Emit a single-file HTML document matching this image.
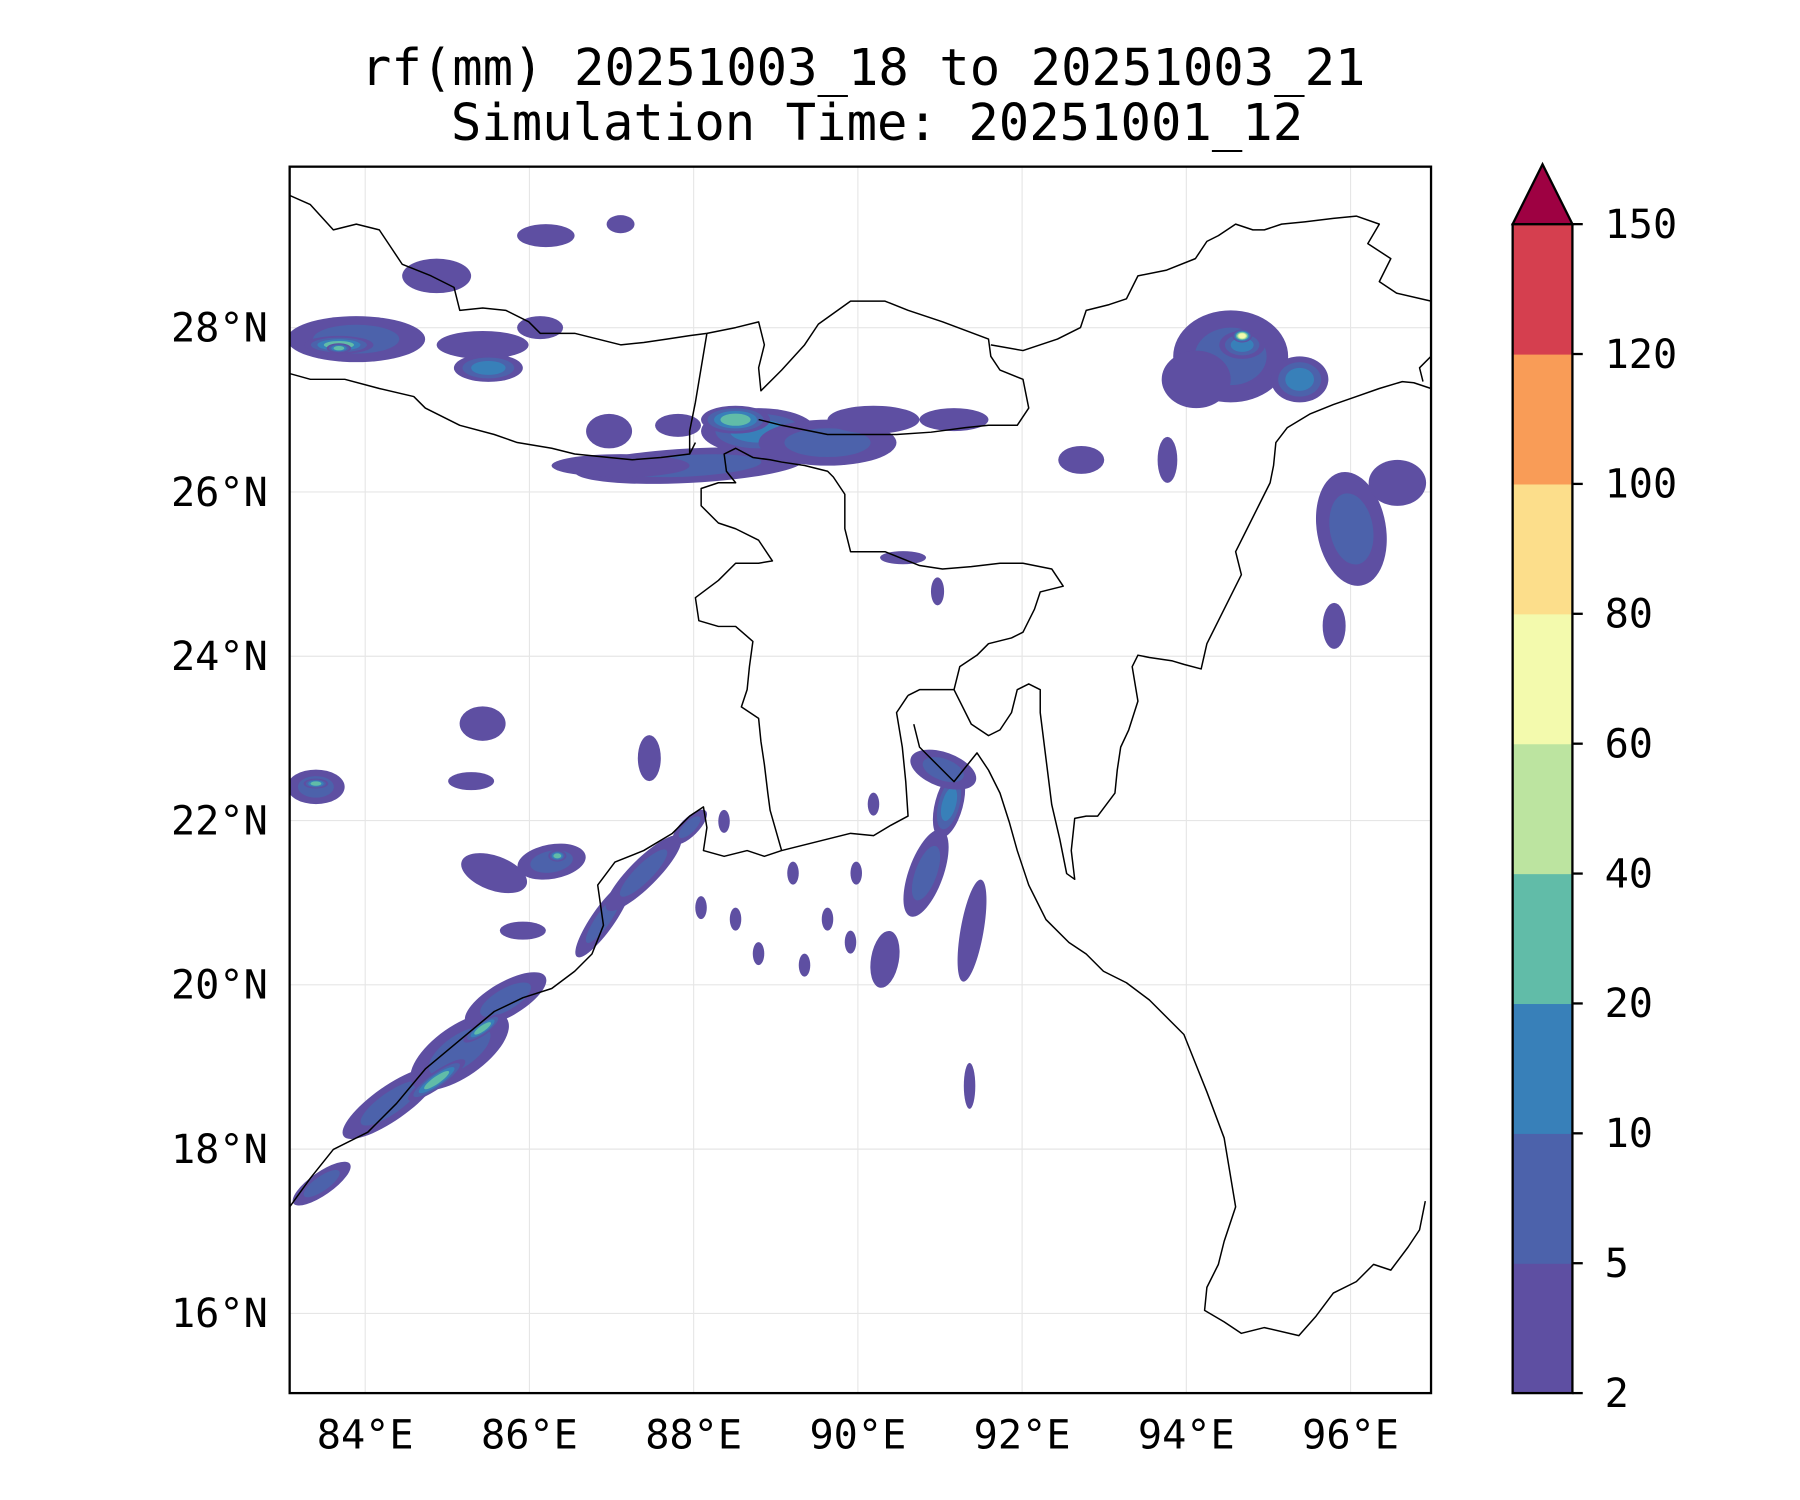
<!DOCTYPE html>
<html><head><meta charset="utf-8">
<style>html,body{margin:0;padding:0;background:#fff;}svg{display:block;}</style>
</head><body>
<svg id="chart" width="1800" height="1500" viewBox="0 0 1566 1305" xmlns="http://www.w3.org/2000/svg" font-family="'DejaVu Sans Mono','Liberation Mono',monospace">
<rect width="1566" height="1305" fill="#fff"/>
<text x="751" y="74" font-size="44" text-anchor="middle">rf(mm) 20251003_18 to 20251003_21</text>
<text x="763" y="122" font-size="44" text-anchor="middle">Simulation Time: 20251001_12</text>
<defs><clipPath id="mapclip"><rect x="252" y="145" width="993" height="1067"/></clipPath></defs>
<g id="grid"></g>
<g id="rain" clip-path="url(#mapclip)"></g>
<g id="geo" clip-path="url(#mapclip)" fill="none" stroke="#000" stroke-width="1.3" stroke-linejoin="round">
<polyline points="252,1050 270,1025 290,1000 320,985 345,960 370,930 400,905 430,880 455,868 480,860 500,845 515,830 525,805 520,770 535,750 560,740 585,725 600,710 612,702 615,720 612,740 630,745 650,740 665,745 680,740 700,735 720,730 740,725 760,727 775,718 790,710 788,680 785,650 780,620 790,605"/>
<polyline points="795,630 800,650 815,665 830,680 850,655 860,670 870,690 878,715 885,740 895,770 910,800 930,820 945,830 960,845 980,855 1000,870 1015,885 1030,900 1040,925 1050,950 1065,990 1070,1020 1075,1050 1065,1080 1060,1100 1050,1120 1048,1140 1065,1150 1080,1160 1100,1155 1130,1162 1145,1145 1160,1125 1180,1115 1195,1100 1210,1105 1225,1085 1235,1070 1240,1045"/>
<polyline points="252,325 270,330 300,330 330,338 360,345 370,355 400,370 430,378 450,385 480,390 500,395 530,398 550,400 575,398 600,395 605,385"/>
<polyline points="252,170 270,178 290,200 310,195 330,200 340,215 350,230 375,240 395,250 400,270 420,268 440,270 460,280 470,290 500,290 520,295 540,300 560,298 580,295 600,292 615,290"/>
<polyline points="615,290 610,320 605,350 600,375 600,395"/>
<polyline points="615,290 640,285 660,280 665,300 660,320 662,340 680,322 700,300 712,282 740,262 770,262 790,270 820,280 860,295 862,310 870,322 890,330 895,355 885,370 860,370 840,372 810,376 780,378 750,378 720,378 700,374 680,370 660,365"/>
<polyline points="862,300 890,305 920,295 940,285 945,270 965,265 980,260 990,240 1015,235 1040,225 1050,210 1060,205 1075,195 1090,200 1100,200 1115,195 1135,193 1160,190 1180,188 1200,195 1190,212 1210,225 1200,245 1215,255 1245,262"/>
<polyline points="1245,338 1230,333 1220,332 1200,338 1180,345 1160,352 1140,360 1120,372 1110,385 1108,405 1105,420 1095,440 1085,460 1075,480 1080,500 1070,520 1060,540 1050,560 1045,582 1030,578 1020,575 1000,572 990,570 985,580 990,610 982,635 975,650 972,670 970,690 955,710 945,710 935,712 932,740 935,765 928,760 922,730 915,700 910,660 905,620 905,600 895,595 885,600 880,620 870,635 860,640 845,630 830,600 835,580 850,570 860,560 880,555 890,550 900,530 905,515 925,510 915,495 890,490 870,490 845,493 820,495 800,492 770,480 740,480 735,460 735,430 725,415 720,410 700,405 680,402 670,400 655,398 640,390 630,395 632,410 640,420 625,420 610,425 610,440 625,455 640,460 660,470 672,488 660,490 640,490 625,505 605,520 608,540 625,545 640,545 655,558 652,580 650,600 645,615 660,625 662,645 665,665 668,690 670,705 680,740"/>
<polyline points="1245,310 1235,320 1238,332"/>
<polyline points="790,605 800,600 820,600 830,600"/>
</g>
<rect x="252" y="145" width="993" height="1067" fill="none" stroke="#000" stroke-width="2"/>
<g id="axes" font-size="35"></g>
<g id="cbar"></g>
</svg>
<script>
const NS='http://www.w3.org/2000/svg';
// Map extent
const lonMin=83.08, lonMax=96.98, latMin=15.03, latMax=29.96;
const lonTicks=[84,86,88,90,92,94,96];
const latTicks=[16,18,20,22,24,26,28];
const levels=[2,5,10,20,40,60,80,100,120,150];
const levelColors=['#5e4fa2','#4c62ab','#3880b9','#61bca8','#bce4a0','#f3faad','#fcde8b','#f99c57','#d53f4f'];
const extendColor='#9e0142';
// Rain cells: lon, lat, half-width (deg), half-height (deg), color level index, rotation
const cellLon=[83.89,83.68,85.43,85.50,86.13,84.87,86.20,87.11,87.95,87.11,88.79,89.63,88.51,90.19,86.97,87.81,91.17,92.72,93.77,94.54,94.68,94.68,95.38,94.12,96.01,96.57,95.80,90.55,90.97,83.40,85.43,85.29,87.46,85.57,86.27,86.34,83.47,84.31,85.15,85.71,84.87,85.43,86.90,87.39,87.95,85.92,90.83,91.11,91.39,90.33,91.04,91.36,88.51,88.79,89.21,89.63,89.98,89.35,88.09,89.91,90.19,88.37,83.68,83.40];
const cellLat=[27.86,27.79,27.79,27.51,28.00,28.63,29.12,29.26,26.32,26.32,26.74,26.60,26.88,26.88,26.74,26.81,26.88,26.39,26.39,27.65,27.79,27.90,27.37,27.37,25.55,26.11,24.37,25.20,24.79,22.41,23.18,22.48,22.76,21.36,21.50,21.57,17.58,18.56,19.19,19.82,18.84,19.47,20.80,21.36,21.92,20.66,21.36,22.20,20.66,20.31,22.62,18.77,20.80,20.38,21.36,20.80,21.36,20.24,20.94,20.52,22.20,21.99,27.75,22.45];
const cellRx=[0.84,0.42,0.56,0.42,0.28,0.42,0.35,0.17,1.40,0.84,0.70,0.84,0.42,0.56,0.28,0.28,0.42,0.28,0.12,0.70,0.28,0.12,0.35,0.42,0.42,0.35,0.14,0.28,0.08,0.35,0.28,0.28,0.14,0.42,0.42,0.11,0.42,0.70,0.70,0.56,0.42,0.28,0.56,0.63,0.28,0.28,0.21,0.17,0.14,0.17,0.42,0.07,0.07,0.07,0.07,0.07,0.07,0.07,0.07,0.07,0.07,0.07,0.15,0.15];
const cellRy=[0.28,0.11,0.17,0.17,0.14,0.21,0.14,0.11,0.21,0.14,0.28,0.28,0.17,0.17,0.21,0.14,0.14,0.17,0.28,0.56,0.17,0.08,0.28,0.35,0.70,0.28,0.28,0.08,0.17,0.21,0.21,0.11,0.28,0.21,0.21,0.07,0.14,0.21,0.31,0.21,0.10,0.08,0.14,0.17,0.11,0.11,0.56,0.42,0.63,0.35,0.21,0.28,0.14,0.14,0.14,0.14,0.14,0.14,0.14,0.14,0.14,0.14,0.06,0.06];
const cellLevel=[1,3,0,2,0,0,0,0,1,0,2,1,3,0,0,0,0,0,0,1,2,5,2,0,1,0,0,0,0,1,0,0,0,0,1,3,1,1,1,1,3,3,1,1,1,0,1,2,0,0,1,0,0,0,0,0,0,0,0,0,0,0,3,3];
const cellRot=[0,0,0,0,0,0,0,0,-3,0,0,0,0,0,0,0,0,0,0,0,0,0,0,0,-10,0,0,0,0,0,0,0,0,20,-10,0,-35,-35,-35,-30,-35,-35,-55,-45,-45,0,20,15,10,10,20,0,0,0,0,0,0,0,0,0,0,0];

const X0=252,X1=1245,Y0=145,Y1=1212;
function xs(lon){return X0+(lon-lonMin)/(lonMax-lonMin)*(X1-X0);}
function ys(lat){return Y0+(latMax-lat)/(latMax-latMin)*(Y1-Y0);}
function kx(d){return d/(lonMax-lonMin)*(X1-X0);}
function ky(d){return d/(latMax-latMin)*(Y1-Y0);}
function mk(tag,attrs,parent){const e=document.createElementNS(NS,tag);for(const k in attrs)e.setAttribute(k,attrs[k]);parent.appendChild(e);return e;}

const grid=document.getElementById('grid');
lonTicks.forEach(v=>{
  const l=mk('line',{x1:xs(v),x2:xs(v),y1:Y0,y2:Y1,stroke:'#e6e6e6','stroke-width':1},grid);
  
  
});
latTicks.forEach(v=>{
  const l=mk('line',{x1:X0,x2:X1,y1:ys(v),y2:ys(v),stroke:'#e6e6e6','stroke-width':1},grid);
  
  
});

const rain=document.getElementById('rain');
for(let i=0;i<cellLon.length;i++){
  const cx=xs(cellLon[i]),cy=ys(cellLat[i]);
  const lv=cellLevel[i];
  for(let k=0;k<=lv;k++){
    const f=1-k/(lv+1)*0.75;
    const e=mk('ellipse',{cx:cx,cy:cy,rx:kx(cellRx[i])*f,ry:ky(cellRy[i])*f,fill:levelColors[k],transform:'rotate('+cellRot[i]+' '+cx+' '+cy+')'},rain);
    
    
  }
}

const axes=document.getElementById('axes');
lonTicks.forEach(v=>{
  const t=mk('text',{x:xs(v),y:1260,'text-anchor':'middle'},axes);
  t.textContent=v+'°E';
  
  
});
latTicks.forEach(v=>{
  const t=mk('text',{x:233,y:ys(v)+12,'text-anchor':'end'},axes);
  t.textContent=v+'°N';
  
  
});

const cbar=document.getElementById('cbar');
const CB_X=1316,CB_W=52,CB_TOP=195,CB_BOT=1212;
const segH=(CB_BOT-CB_TOP)/levelColors.length;
levelColors.forEach((c,i)=>{
  const r=mk('rect',{x:CB_X,y:CB_BOT-(i+1)*segH,width:CB_W,height:segH+0.5,fill:c},cbar);
  
  
});
const tri=mk('polygon',{points:`${CB_X},${CB_TOP} ${CB_X+CB_W/2},${CB_TOP-52} ${CB_X+CB_W},${CB_TOP}`,fill:extendColor,stroke:'#000','stroke-width':2},cbar);


const fr=mk('rect',{x:CB_X,y:CB_TOP,width:CB_W,height:CB_BOT-CB_TOP,fill:'none',stroke:'#000','stroke-width':2},cbar);


levels.forEach((v,i)=>{
  const y=CB_BOT-i*segH;
  const tk=mk('line',{x1:CB_X+CB_W,x2:CB_X+CB_W+9,y1:y,y2:y,stroke:'#000','stroke-width':2},cbar);
  
  
  const t=mk('text',{x:1396,y:y+12,'font-size':35},cbar);
  t.textContent=v;
  
  
});
</script>
</body></html>
